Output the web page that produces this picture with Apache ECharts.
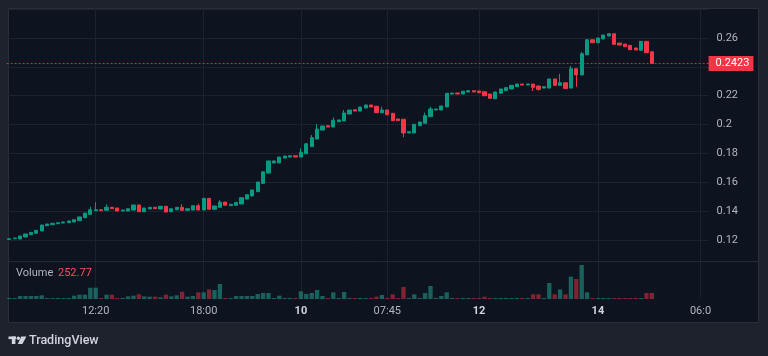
<!DOCTYPE html>
<html><head><meta charset="utf-8">
<script src="https://cdn.jsdelivr.net/npm/echarts@6/dist/echarts.min.js"></script>
<style>html,body{margin:0;padding:0;background:#1e222d;}#c{width:768px;height:356px;}</style>
</head><body><div id="c"></div>
<script>
const opens = [0.1204,0.1209,0.1207,0.1221,0.1237,0.1247,0.1263,0.1299,0.1306,0.1313,
0.1318,0.1320,0.1325,0.1334,0.1355,0.1378,0.1403,0.1410,0.1406,0.1427,
0.1422,0.1401,0.1401,0.1408,0.1443,0.1396,0.1415,0.1427,0.1415,0.1434,
0.1396,0.1410,0.1427,0.1406,0.1408,0.1438,0.1408,0.1489,0.1413,0.1427,
0.1463,0.1438,0.1441,0.1450,0.1484,0.1505,0.1535,0.1593,0.1664,0.1734,
0.1734,0.1768,0.1775,0.1784,0.1775,0.1798,0.1847,0.1900,0.1962,0.1992,
0.1983,0.2020,0.2025,0.2073,0.2103,0.2094,0.2115,0.2136,0.2127,0.2082,
0.2101,0.2078,0.2039,0.2037,0.1942,0.1942,0.1992,0.2009,0.2055,0.2101,
0.2101,0.2122,0.2212,0.2219,0.2212,0.2226,0.2235,0.2233,0.2228,0.2212,
0.2179,0.2217,0.2235,0.2247,0.2263,0.2281,0.2274,0.2281,0.2267,0.2253,
0.2253,0.2316,0.2272,0.2290,0.2253,0.2387,0.2344,0.2484,0.2588,0.2567,
0.2593,0.2614,0.2630,0.2565,0.2558,0.2549,0.2531,0.2515,0.2577,0.2505];
const closes = [0.1209,0.1214,0.1228,0.1242,0.1253,0.1267,0.1304,0.1311,0.1316,0.1320,
0.1325,0.1332,0.1341,0.1360,0.1387,0.1410,0.1410,0.1403,0.1427,0.1417,
0.1401,0.1408,0.1417,0.1443,0.1396,0.1422,0.1427,0.1417,0.1434,0.1394,
0.1417,0.1427,0.1406,0.1417,0.1438,0.1408,0.1489,0.1413,0.1436,0.1463,
0.1441,0.1448,0.1461,0.1493,0.1514,0.1547,0.1602,0.1673,0.1748,0.1748,
0.1775,0.1782,0.1784,0.1775,0.1808,0.1867,0.1909,0.1969,0.1990,0.1983,
0.2030,0.2032,0.2080,0.2101,0.2094,0.2122,0.2136,0.2122,0.2082,0.2101,
0.2068,0.2027,0.2027,0.1942,0.1951,0.2002,0.2018,0.2062,0.2108,0.2108,
0.2129,0.2217,0.2219,0.2212,0.2231,0.2235,0.2226,0.2221,0.2200,0.2182,
0.2226,0.2247,0.2256,0.2272,0.2281,0.2274,0.2281,0.2258,0.2244,0.2263,
0.2316,0.2272,0.2290,0.2251,0.2387,0.2344,0.2491,0.2588,0.2567,0.2600,
0.2621,0.2630,0.2556,0.2551,0.2540,0.2519,0.2517,0.2577,0.2498,0.2423];
const highs = [0.1211,0.1215,0.1229,0.1243,0.1254,0.1268,0.1305,0.1312,0.1317,0.1321,
0.1326,0.1333,0.1342,0.1361,0.1388,0.1431,0.1463,0.1411,0.1448,0.1428,
0.1423,0.1409,0.1418,0.1444,0.1444,0.1423,0.1428,0.1428,0.1435,0.1435,
0.1418,0.1428,0.1448,0.1418,0.1439,0.1452,0.1490,0.1490,0.1437,0.1477,
0.1464,0.1449,0.1462,0.1494,0.1515,0.1548,0.1603,0.1674,0.1749,0.1749,
0.1776,0.1783,0.1785,0.1785,0.1836,0.1872,0.1928,0.2004,0.1991,0.1993,
0.2050,0.2033,0.2101,0.2102,0.2104,0.2123,0.2137,0.2137,0.2128,0.2124,
0.2102,0.2079,0.2040,0.2038,0.1952,0.2003,0.2019,0.2082,0.2124,0.2109,
0.2130,0.2218,0.2220,0.2220,0.2232,0.2236,0.2236,0.2234,0.2229,0.2213,
0.2227,0.2248,0.2257,0.2273,0.2282,0.2282,0.2282,0.2282,0.2272,0.2264,
0.2317,0.2317,0.2351,0.2291,0.2406,0.2388,0.2503,0.2589,0.2589,0.2601,
0.2622,0.2631,0.2631,0.2566,0.2559,0.2550,0.2532,0.2578,0.2578,0.2506];
const lows = [0.1202,0.1208,0.1206,0.1220,0.1236,0.1246,0.1262,0.1298,0.1305,0.1312,
0.1317,0.1319,0.1324,0.1333,0.1354,0.1377,0.1402,0.1402,0.1405,0.1416,
0.1400,0.1400,0.1400,0.1407,0.1395,0.1395,0.1414,0.1416,0.1414,0.1393,
0.1395,0.1409,0.1401,0.1405,0.1407,0.1407,0.1407,0.1412,0.1412,0.1426,
0.1440,0.1437,0.1440,0.1449,0.1483,0.1504,0.1534,0.1592,0.1663,0.1733,
0.1733,0.1767,0.1774,0.1774,0.1774,0.1797,0.1846,0.1899,0.1961,0.1982,
0.1982,0.2019,0.2024,0.2072,0.2093,0.2093,0.2114,0.2121,0.2081,0.2081,
0.2067,0.2026,0.2026,0.1912,0.1941,0.1941,0.1991,0.2008,0.2054,0.2100,
0.2100,0.2121,0.2211,0.2211,0.2211,0.2225,0.2225,0.2220,0.2199,0.2181,
0.2178,0.2216,0.2234,0.2246,0.2262,0.2273,0.2273,0.2233,0.2235,0.2252,
0.2252,0.2271,0.2271,0.2250,0.2252,0.2262,0.2343,0.2483,0.2566,0.2566,
0.2592,0.2613,0.2555,0.2550,0.2539,0.2518,0.2516,0.2514,0.2497,0.2422];
const volumes = [42,40,126,126,126,126,155,42,38,42,
40,42,140,183,183,477,477,42,183,183,
40,42,112,140,197,112,98,98,70,183,
112,155,309,98,126,281,281,407,379,632,
42,40,126,126,126,126,211,253,253,42,
140,42,40,42,323,211,253,379,126,42,
281,42,295,40,42,42,38,42,98,169,
42,197,42,506,42,197,40,253,548,42,
126,281,42,40,42,42,40,42,98,42,
40,42,42,40,42,42,40,197,197,42,
674,197,407,197,941,843,1432,281,42,40,
42,42,40,42,42,40,42,40,253,252.77];
const timeTickIndex = [16, 36, 54, 70, 87, 109, 128];
const timeTickLabels = ['12:20', '18:00', '10', '07:45', '12', '14', '06:0'];
const dayLabels = ['10', '12', '14'];
const lastPrice = 0.2423;
const lastVolume = 252.77;
const slotCount = 130;

const categories = Array.from({length: slotCount}, (_, i) => String(i));
const candleData = opens.map((o, i) => [o, closes[i], lows[i], highs[i]]);

const UP = '#089981', DOWN = '#f23645';
const GRID = '#1c2230', TXT = '#b2b5be';
const FONT = 'Roboto, sans-serif';

const volData = volumes.map((v, i) => ({
  value: v,
  itemStyle: {color: closes[i] >= opens[i] ? 'rgba(34,150,134,0.6)' : 'rgba(242,54,69,0.5)'}
}));

const vLines = timeTickIndex.map(ix => ({xAxis: ix, lineStyle: {color: GRID, type: 'solid', width: 1}, label: {show: false}}));

const chart = echarts.init(document.getElementById('c'), null, {renderer: 'canvas'});
chart.setOption({
  backgroundColor: '#1e222d',
  animation: false,
  textStyle: {fontFamily: FONT},
  graphic: [
    {type: 'rect', z: -10, silent: true, shape: {x: 8.5, y: 8.5, width: 750, height: 314}, style: {fill: '#0e1320', stroke: '#2a2e39', lineWidth: 1}},
    {type: 'line', z: 10, silent: true, shape: {x1: 9, y1: 261.5, x2: 758, y2: 261.5}, style: {stroke: '#232937', lineWidth: 1}},
    {type: 'text', z: 10, left: 16, top: 268, style: {text: 'Volume', fill: TXT, font: '11px ' + FONT}},
    {type: 'text', z: 10, left: 58, top: 268, style: {text: lastVolume.toFixed(2), fill: '#f7525f', font: '11px ' + FONT}},
    {type: 'rect', z: 10, silent: true, shape: {x: 8.5, y: 336.5, width: 7.5, height: 2.6}, style: {fill: '#d1d4dc'}},
    {type: 'rect', z: 10, silent: true, shape: {x: 11.8, y: 336.5, width: 3.6, height: 7.5}, style: {fill: '#d1d4dc'}},
    {type: 'circle', z: 10, silent: true, shape: {cx: 18.3, cy: 338.2, r: 1.7}, style: {fill: '#d1d4dc'}},
    {type: 'polygon', z: 10, silent: true, shape: {points: [[21.2, 336.5], [26.4, 336.5], [22.4, 344], [17.8, 344]]}, style: {fill: '#d1d4dc'}},
    {type: 'text', z: 10, left: 29, top: 334, style: {text: 'TradingView', fill: '#d1d4dc', font: '500 12.5px ' + FONT}}
  ],
  grid: [
    {left: 6.6, width: 702, top: 8, height: 260.9},
    {left: 6.6, width: 702, top: 261, height: 38}
  ],
  xAxis: [
    {type: 'category', gridIndex: 0, data: categories, boundaryGap: true,
     axisLine: {show: false}, axisTick: {show: false}, axisLabel: {show: false}, splitLine: {show: false}},
    {type: 'category', gridIndex: 1, data: categories, boundaryGap: true,
     axisLine: {show: false}, axisTick: {show: false}, splitLine: {show: false},
     axisLabel: {
       interval: (i) => timeTickIndex.indexOf(i) >= 0,
       margin: 7, fontSize: 11, color: TXT,
       formatter: (v, i) => {
         const k = timeTickIndex.indexOf(i);
         if (k < 0) return '';
         const t = timeTickLabels[k];
         return dayLabels.indexOf(t) >= 0 ? '{d|' + t + '}' : t;
       },
       rich: {d: {fontSize: 11, fontWeight: 'bold', color: '#d1d4dc'}}
     }}
  ],
  yAxis: [
    {type: 'value', gridIndex: 0, position: 'right', min: 0.10, max: 0.2808, interval: 0.02,
     axisLine: {show: false}, axisTick: {show: false},
     splitLine: {show: true, showMinLine: false, showMaxLine: false, lineStyle: {color: GRID, width: 1}},
     axisLabel: {showMinLabel: false, showMaxLabel: false, color: TXT, fontSize: 11, margin: 8,
       formatter: (v) => (v > 0.11 && v < 0.27 && Math.abs(v - lastPrice) > 0.006) ? String(+v.toFixed(2)) : ''}},
    {type: 'value', gridIndex: 1, min: 0, max: 1601, show: false, splitLine: {show: false}}
  ],
  series: [
    {type: 'candlestick', xAxisIndex: 0, yAxisIndex: 0, data: candleData, barWidth: 3.6,
     itemStyle: {color: UP, color0: DOWN, borderColor: UP, borderColor0: DOWN, borderWidth: 1},
     markLine: {silent: true, z: 1, symbol: ['none', 'none'], animation: false, precision: 4,
       data: [
         ...vLines,
         {yAxis: lastPrice, lineStyle: {color: '#c8303e', type: [2, 2], width: 1, opacity: 1},
          label: {show: true, position: 'end', distance: 0, formatter: lastPrice.toFixed(4),
                  backgroundColor: DOWN, color: '#ffffff', fontSize: 11, lineHeight: 12, padding: [2, 4, 1, 7]}}
       ]}},
    {type: 'bar', xAxisIndex: 1, yAxisIndex: 1, data: volData, barWidth: '80%',
     markLine: {silent: true, z: 1, symbol: ['none', 'none'], animation: false, precision: 2,
       data: [
         ...vLines,
         {yAxis: lastVolume, lineStyle: {opacity: 0},
          label: {show: true, position: 'end', distance: 0, formatter: lastVolume.toFixed(2),
                  backgroundColor: '#f7525f', color: '#ffffff', fontSize: 11, lineHeight: 12, padding: [2, 4, 1, 6]}}
       ]}}
  ]
});
</script></body></html>
